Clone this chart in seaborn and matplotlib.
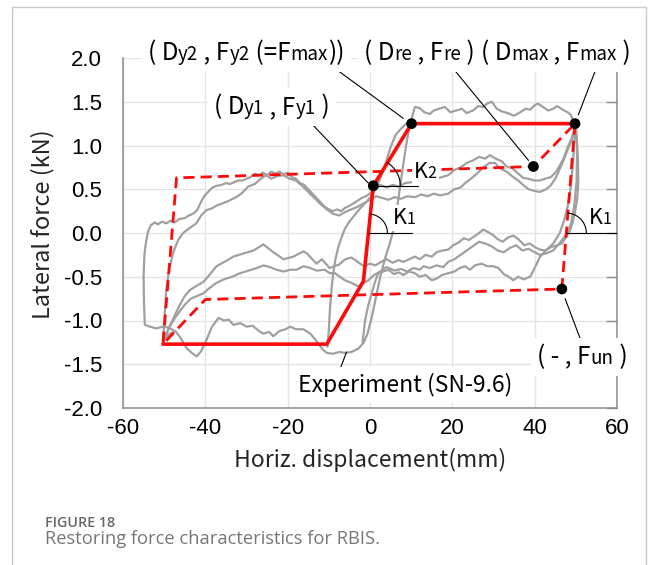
import numpy as np
import pandas as pd
import matplotlib
matplotlib.use("Agg")
import matplotlib.pyplot as plt
import seaborn as sns
from matplotlib.offsetbox import TextArea, HPacker, AnnotationBbox
from matplotlib.lines import Line2D

# ---------------- data ----------------
x_ticks = [-60, -40, -20, 0, 20, 40, 60]
y_ticks = [-2.0, -1.5, -1.0, -0.5, 0.0, 0.5, 1.0, 1.5, 2.0]

# experimental hysteresis (SN-9.6), traced by eye: (displacement mm, force kN)
exp_a = [(-50.3, -1.22), (-48.5, -1.15), (-47.3, -1.12), (-46, -1.2), (-44.5, -1.32), (-43.3, -1.37),
         (-42.1, -1.41), (-41, -1.35), (-39.7, -1.22), (-38.5, -1.08), (-36.8, -0.97), (-35.5, -1.0),
         (-34.3, -0.99), (-33.2, -1.05), (-31.5, -1.03), (-30, -1.07), (-28.5, -1.06), (-27, -1.12),
         (-25.9, -1.15), (-24.5, -1.13), (-23.5, -1.18), (-22, -1.12), (-20.5, -1.1), (-19.4, -1.07),
         (-18, -1.1), (-16.2, -1.1), (-14.5, -1.15), (-12.9, -1.24), (-11.5, -1.33), (-10.5, -1.37),
         (-9, -1.38), (-7.5, -1.36), (-6.1, -1.37), (-4.5, -1.36), (-2.8, -1.32), (-1.5, -1.25),
         (-0.6, -1.15), (0.5, -0.95), (1.5, -0.72), (2.5, -0.5), (3.6, -0.3), (4.8, -0.12), (5.8, 0.05),
         (6.5, 0.25), (7.2, 0.5), (8.0, 0.76), (8.7, 0.98), (9.3, 1.14), (10.1, 1.3), (10.9, 1.44),
         (12, 1.43), (13.2, 1.38), (14.5, 1.36), (15.5, 1.4), (16.8, 1.42), (18.2, 1.44), (19.5, 1.38),
         (21, 1.4), (22.3, 1.42), (23.5, 1.37), (25, 1.4), (26.3, 1.45), (27.5, 1.44), (28.5, 1.48),
         (29.6, 1.5), (30.8, 1.42), (32, 1.39), (33.5, 1.37), (35, 1.34), (36.5, 1.38), (37.8, 1.42),
         (38.9, 1.41), (40, 1.46), (40.8, 1.48), (42, 1.44), (43.3, 1.4), (44.5, 1.42), (45.5, 1.45),
         (46.8, 1.41), (48, 1.38), (48.8, 1.35), (49.6, 1.25), (50.2, 1.1), (50.5, 0.85), (50.6, 0.57),
         (50.3, 0.38), (49.8, 0.24), (49.2, 0.12), (48.6, 0.03), (47.6, -0.05), (46.6, -0.12),
         (45.5, -0.14), (44, -0.16), (42.6, -0.2), (41.3, -0.19), (40, -0.16), (38.8, -0.12),
         (37.5, -0.14), (36, -0.07), (34.8, -0.03), (33.6, -0.05), (32.2, -0.1), (31, -0.07),
         (29.8, -0.02), (28.7, 0.01), (27.5, 0.04), (26.5, 0.0), (25.3, -0.04), (24, -0.08),
         (22.8, -0.06), (21.5, -0.11), (20.2, -0.14), (19, -0.19), (17.6, -0.2), (16.2, -0.22),
         (15, -0.27), (13.5, -0.25), (12.1, -0.3), (10.9, -0.27), (9.5, -0.3), (8.1, -0.33),
         (6.9, -0.31), (5.5, -0.34), (4, -0.3), (2.7, -0.33), (1.3, -0.37), (0, -0.35), (-1.5, -0.38),
         (-3, -0.33), (-4.5, -0.28), (-6, -0.3), (-7.5, -0.36), (-9.8, -0.4), (-11.7, -0.3),
         (-13, -0.35), (-15.4, -0.23), (-16.2, -0.21), (-18.6, -0.27), (-21, -0.3), (-23.5, -0.22),
         (-25.9, -0.13), (-28.3, -0.2), (-30.5, -0.23), (-33.2, -0.27), (-35, -0.32), (-37.3, -0.38),
         (-39, -0.48), (-40.5, -0.56), (-42, -0.6), (-43.7, -0.65), (-45, -0.72), (-46.5, -0.85),
         (-47.8, -0.98), (-49, -1.1), (-50.3, -1.25)]

exp_b = [(50, 1.25), (50.3, 1.0), (50.2, 0.6), (49.6, 0.3), (48.8, 0.1), (47.6, -0.02), (46, -0.12),
         (44.5, -0.2), (43, -0.23), (41.3, -0.25), (40, -0.22), (38.5, -0.18), (37, -0.2), (35.5, -0.14),
         (34, -0.17), (32.5, -0.22), (31, -0.2), (29.5, -0.15), (28, -0.12), (26.5, -0.1), (25, -0.15),
         (23.5, -0.2), (22, -0.25), (20.5, -0.3), (19, -0.33), (17.8, -0.39), (16.2, -0.37),
         (14.5, -0.4), (13, -0.38), (12.1, -0.42), (10.5, -0.4), (9, -0.44), (7.5, -0.41), (6, -0.43),
         (4, -0.39), (2.5, -0.44), (1, -0.48), (-0.4, -0.54), (-1.8, -0.58), (-2.8, -0.61),
         (-4.5, -0.57), (-6.1, -0.54), (-7.3, -0.5), (-8.5, -0.46), (-9.8, -0.46), (-11, -0.42),
         (-13, -0.43), (-14.5, -0.4), (-16.2, -0.38), (-17.8, -0.42), (-19.4, -0.42), (-21, -0.44),
         (-22.7, -0.42), (-24.3, -0.39), (-25.9, -0.37), (-27.5, -0.4), (-29.5, -0.43), (-31.6, -0.46),
         (-33.5, -0.5), (-35.5, -0.53), (-37.3, -0.57), (-39, -0.63), (-40.5, -0.69), (-42, -0.72),
         (-43.5, -0.75), (-45, -0.82), (-46.3, -0.9), (-47.5, -0.98), (-48.8, -1.08), (-50.3, -1.27)]

exp_c = [(-50.3, -1.26), (-49.9, -0.95), (-49.5, -0.65), (-48.8, -0.42), (-47.8, -0.22), (-46.6, -0.08),
         (-45.4, 0.0), (-44, 0.05), (-42.2, 0.11), (-41, 0.2), (-39.8, 0.26), (-38.5, 0.28), (-37, 0.32),
         (-35.7, 0.34), (-34.2, 0.37), (-32.5, 0.41), (-31, 0.46), (-29.6, 0.53), (-28, 0.56),
         (-26.5, 0.62), (-25.3, 0.66), (-24, 0.62), (-22.5, 0.65), (-21, 0.66), (-19.5, 0.62),
         (-18, 0.6), (-16.5, 0.54), (-15, 0.47), (-13.5, 0.4), (-12, 0.33), (-10.5, 0.27), (-9, 0.22),
         (-7.5, 0.2), (-6, 0.24), (-4.5, 0.27), (-3, 0.3), (-1.5, 0.34), (0, 0.38), (1.5, 0.42),
         (3, 0.4), (4.5, 0.38), (6, 0.41), (7.5, 0.39), (9, 0.42), (10.9, 0.41), (12.5, 0.44),
         (14, 0.42), (15.5, 0.45), (17, 0.43), (19, 0.45), (20.5, 0.5), (22, 0.52), (23.1, 0.57),
         (24.5, 0.62), (26, 0.68), (27.5, 0.75), (29, 0.8), (30.4, 0.8), (31.5, 0.74), (33.2, 0.7),
         (34.5, 0.65), (36, 0.6), (37.2, 0.55), (38.5, 0.5), (40, 0.48), (41.3, 0.47), (42.8, 0.5),
         (44, 0.55), (45, 0.62), (46, 0.72), (47, 0.83), (48, 0.95), (49, 1.06), (49.6, 1.17), (50, 1.25)]

exp_d = [(-47.8, -1.11), (-49, -1.08), (-50.3, -1.07), (-51.9, -1.09), (-53.5, -1.07), (-54.7, -1.05),
         (-54.9, -0.8), (-55, -0.5), (-54.8, -0.25), (-54.4, -0.1), (-53.9, 0.02), (-53.2, 0.09),
         (-52.3, 0.12), (-51.5, 0.1), (-50.5, 0.13), (-49.5, 0.11), (-48.5, 0.14), (-47.5, 0.12),
         (-46.3, 0.16), (-45, 0.17), (-44, 0.2), (-43, 0.22), (-42, 0.26), (-41.2, 0.34), (-40.3, 0.42),
         (-39.3, 0.47), (-38.3, 0.52), (-37.2, 0.54), (-36, 0.55), (-35, 0.57), (-34, 0.56), (-33, 0.58),
         (-32, 0.6), (-31, 0.6), (-30, 0.62), (-29, 0.64), (-28, 0.68), (-27, 0.66), (-26, 0.69),
         (-25, 0.66), (-24, 0.7), (-23, 0.68), (-22, 0.7), (-21, 0.67), (-20, 0.69), (-19, 0.64),
         (-18, 0.62), (-17, 0.57), (-16, 0.55), (-15, 0.5), (-14, 0.45), (-13, 0.4), (-12, 0.35),
         (-11, 0.3), (-10, 0.27), (-9, 0.25), (-8, 0.27), (-7, 0.25), (-6, 0.29), (-5, 0.31),
         (-4, 0.34), (-3, 0.37), (-2, 0.4), (-1, 0.42), (0, 0.45), (1.2, 0.49), (2.5, 0.55), (4, 0.52),
         (5.5, 0.55), (7, 0.53), (8.5, 0.57), (10, 0.58), (11.5, 0.56), (13, 0.6), (14.5, 0.58),
         (16, 0.62), (17.5, 0.64), (19, 0.66), (20.5, 0.72), (22, 0.75), (23.5, 0.8), (25, 0.83),
         (26.5, 0.87), (28, 0.85), (29.1, 0.89), (30.5, 0.85), (32, 0.82), (33.2, 0.76), (34.5, 0.74),
         (36, 0.68), (37.2, 0.63), (38.5, 0.62), (40, 0.6), (41.3, 0.6), (42.5, 0.62), (44, 0.64),
         (45.2, 0.7), (46.2, 0.78), (47, 0.85), (48, 0.98), (49, 1.08), (49.6, 1.18), (50, 1.25)]

exp_e = [(-10.3, -1.3), (-10, -1.1), (-9.7, -0.85), (-9.3, -0.62), (-8.9, -0.45), (-8.4, -0.3),
         (-7.7, -0.16), (-6.9, -0.05), (-6.1, 0.05), (-5, 0.13), (-3.8, 0.2), (-2.4, 0.28), (-1, 0.35),
         (0.3, 0.42), (1.2, 0.49), (2.5, 0.62), (3.8, 0.8), (5, 0.98), (6.2, 1.12), (7.7, 1.2),
         (9.3, 1.27), (10.2, 1.29)]

exp_f = [(-1.8, -1.25), (-1.2, -1.0), (-0.4, -0.82), (0.4, -0.69), (1.2, -0.56), (2, -0.46),
         (3.2, -0.44), (4.5, -0.42), (5.8, -0.47), (7, -0.45), (8.1, -0.48), (9.5, -0.44),
         (10.9, -0.46), (12.1, -0.5), (13.5, -0.48), (15, -0.54), (16.2, -0.52), (17.5, -0.48),
         (19, -0.46), (20.5, -0.44), (21.8, -0.4), (23.1, -0.38), (24.3, -0.42), (25.5, -0.37),
         (27.1, -0.35), (28.5, -0.38), (30, -0.38), (31.2, -0.4), (32.5, -0.47), (33.7, -0.5),
         (34.8, -0.54), (36, -0.5), (37.3, -0.53), (38.9, -0.5), (40, -0.4), (41.3, -0.27),
         (42.7, -0.2), (44.5, -0.12), (46.1, 0.0), (47.2, 0.15), (48, 0.3), (48.7, 0.5), (49.2, 0.75),
         (49.6, 1.0), (50, 1.25)]

experiment_curves = [exp_a, exp_b, exp_c, exp_d, exp_e, exp_f]

# restoring-force model (red)
skeleton_x = [-50.3, -10.5, -1.6, 0.8, 10.1, 49.8]
skeleton_y = [-1.27, -1.27, -0.55, 0.54, 1.25, 1.25]
unload_x = [49.8, 46.6, -40.0, -50.3, -47.0, 39.7, 49.8]
unload_y = [1.25, -0.64, -0.76, -1.27, 0.63, 0.76, 1.25]

# characteristic points: Dy1, Dy2, Dre, Dmax, Fun
key_x = [0.8, 10.1, 39.7, 49.8, 46.6]
key_y = [0.54, 1.25, 0.76, 1.25, -0.64]

# ---------------- style ----------------
sns.set_style("white")
plt.rcParams['font.family'] = ['Liberation Sans', 'DejaVu Sans']
plt.rcParams['axes.unicode_minus'] = False
JP = ['Noto Sans CJK JP', 'DejaVu Sans']

W, H = 654, 565
fig = plt.figure(figsize=(W / 100, H / 100), dpi=100)
L, R, T, B = 123, 617, 58, 408
ax = fig.add_axes([L / W, 1 - B / H, (R - L) / W, (B - T) / H])
ax.set_xlim(-60, 60)
ax.set_ylim(-2.0, 2.0)
sx = (R - L) / 120.0   # px per mm
sy = (B - T) / 4.0     # px per kN

ax.set_xticks(x_ticks)
ax.set_yticks(y_ticks)
ax.set_xticklabels([f"{v:d}" for v in x_ticks])
ax.set_yticklabels([f"{v:.1f}" for v in y_ticks])
ax.grid(True, color='#e4e4e4', lw=1.0, zorder=0)
ax.set_axisbelow(True)
for side in ['left', 'right', 'bottom']:
    ax.spines[side].set_color('#8c8c8c')
    ax.spines[side].set_linewidth(1.1)
ax.spines['top'].set_visible(False)
ax.tick_params(axis='both', direction='in', length=8, width=1.0, color='#8c8c8c',
               labelsize=16, labelcolor='black')
ax.tick_params(axis='y', right=True, labelright=False, pad=15)
ax.tick_params(axis='x', top=False, pad=7)

# experiment curves
for cur in experiment_curves:
    arr = np.array(cur)
    df = pd.DataFrame({'d': arr[:, 0], 'f': arr[:, 1]})
    sns.lineplot(data=df, x='d', y='f', sort=False, estimator=None, color='#a0a0a0',
                 lw=1.6, ax=ax, zorder=2)

# model lines
sns.lineplot(x=unload_x, y=unload_y, sort=False, estimator=None, color='#ff0a0a', lw=2.0,
             ax=ax, zorder=3)
ax.lines[-1].set_dashes([4.0, 2.2])
sns.lineplot(x=skeleton_x, y=skeleton_y, sort=False, estimator=None, color='#ff0a0a', lw=2.6,
             ax=ax, zorder=4)
sns.scatterplot(x=key_x, y=key_y, color='black', s=60, edgecolor='none', ax=ax, zorder=7)
ax.set_xlabel('')
ax.set_ylabel('')


def angle_mark(x0, y0, length_px, radius_px, p_dir):
    ax.plot([x0, x0 + length_px / sx], [y0, y0], color='black', lw=0.8, zorder=5)
    dx = (p_dir[0] - x0) * sx
    dy = (p_dir[1] - y0) * sy
    ang = np.arctan2(dy, dx)
    t = np.linspace(0, ang, 40)
    ax.plot(x0 + radius_px * np.cos(t) / sx, y0 + radius_px * np.sin(t) / sy,
            color='black', lw=0.8, zorder=5)


xk = skeleton_x[2] + (0 - skeleton_y[2]) * (skeleton_x[3] - skeleton_x[2]) / (skeleton_y[3] - skeleton_y[2])
angle_mark(xk, 0.0, 44, 19, (skeleton_x[3], skeleton_y[3]))
angle_mark(key_x[0], key_y[0], 45, 27, (key_x[1], key_y[1]))
xk2 = unload_x[0] + (0 - unload_y[0]) * (unload_x[1] - unload_x[0]) / (unload_y[1] - unload_y[0])
angle_mark(xk2, 0.0, (60 - xk2) * sx, 20, (unload_x[0], unload_y[0]))


def rich(parts, big, small):
    kids = [TextArea(t, textprops=dict(fontsize=(small if s else big), family=JP, color='black'))
            for t, s in parts]
    return HPacker(children=kids, align='baseline', pad=0, sep=0)


def place(parts, xy, big=17.5, small=13.5, pad=0.25, z=6):
    box = rich(parts, big, small)
    ab = AnnotationBbox(box, xy, xycoords='data', frameon=True, pad=pad, fontsize=big,
                        bboxprops=dict(facecolor='white', edgecolor='none'),
                        box_alignment=(0.5, 0.5), annotation_clip=False, zorder=z)
    ax.add_artist(ab)


leaders = [((-8.5, 1.88), (8.1, 1.31)), ((20.2, 1.88), (38.5, 0.83)), ((55.1, 1.90), (50.6, 1.35)),
           ((-13.8, 1.23), (-0.4, 0.57)), ((47.4, -0.75), (51.0, -1.2)), ((-8.1, -1.66), (-5.7, -1.36))]
for (a, b) in leaders:
    ax.plot([a[0], b[0]], [a[1], b[1]], color='black', lw=0.8, zorder=5, clip_on=False)

place([("( D", 0), ("y2", 1), (" , F", 0), ("y2", 1), (" (=F", 0), ("max", 1), ("))", 0)], (-30.1, 2.06))
place([("( D", 0), ("re", 1), (" , F", 0), ("re", 1), (" )", 0)], (12.0, 2.06))
place([("( D", 0), ("max", 1), (" , F", 0), ("max", 1), (" )", 0)], (45.1, 2.06))
place([("( D", 0), ("y1", 1), (" , F", 0), ("y1", 1), (" )", 0)], (-23.9, 1.44))
place([("( - , F", 0), ("un", 1), (" )", 0)], (51.6, -1.42))
place([("Experiment (SN-9.6)", 0)], (8.5, -1.74), big=16.5)
place([("K", 0), ("2", 1)], (13.4, 0.70), big=15.5, small=11.5, pad=0.1)
place([("K", 0), ("1", 1)], (8.3, 0.17), big=15.5, small=11.5, pad=0.1)
place([("K", 0), ("1", 1)], (56.0, 0.17), big=15.5, small=11.5, pad=0.1)

fig.text(370 / W, 1 - 467 / H, "Horiz. displacement(mm)", ha='center', va='baseline',
         fontsize=16.5, family=JP)
fig.text(43 / W, 1 - 224 / H, "Lateral force (kN)", ha='center', va='center', rotation=90,
         fontsize=17, family=JP)

fig.text(45 / W, 1 - 526.7 / H, "FIGURE 18", ha='left', va='baseline', fontsize=10.3,
         family=['Open Sans', 'DejaVu Sans'], weight='semibold', color='#666666')
fig.text(45 / W, 1 - 544 / H, "Restoring force characteristics for RBIS.", ha='left',
         va='baseline', fontsize=13.2, family=['Open Sans', 'DejaVu Sans'], color='#777777')

fc = '#c8c8c8'
fig.add_artist(Line2D([12 / W, 12 / W], [0, 1 - 7 / H], color=fc, lw=1.0, transform=fig.transFigure))
fig.add_artist(Line2D([12 / W, 646 / W], [1 - 7 / H, 1 - 7 / H], color=fc, lw=1.0, transform=fig.transFigure))
fig.add_artist(Line2D([646 / W, 646 / W], [0, 1 - 7 / H], color=fc, lw=1.0, transform=fig.transFigure))

fig.savefig("out.png", dpi=100, facecolor='white')
